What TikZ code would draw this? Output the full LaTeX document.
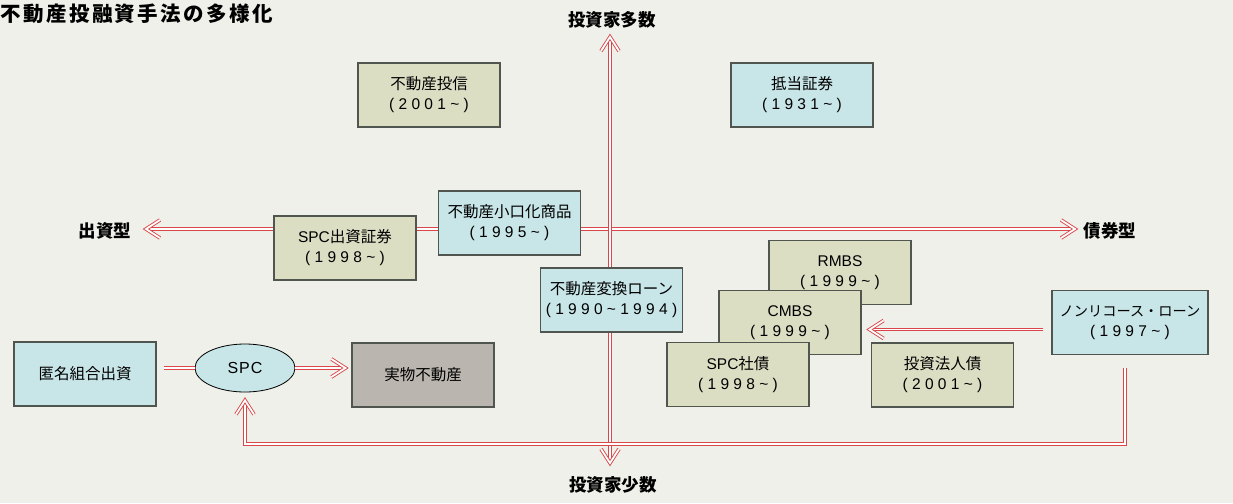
\documentclass[tikz,border=0pt]{standalone}
\usepackage{fontspec}
\setmainfont{Liberation Sans}
\newfontfamily\cjk{Noto Sans CJK JP}
\usetikzlibrary{shapes.geometric}
\definecolor{bgc}{HTML}{EEF0E9}
\definecolor{olv}{HTML}{DBDEC3}
\definecolor{lblue}{HTML}{C8E5E8}
\definecolor{taupe}{HTML}{BAB6AF}
\definecolor{ared}{HTML}{D9474A}
\definecolor{bord}{HTML}{505550}
\newcommand\chevtip[2]{\draw[dbl, shift={(#1)}, rotate=#2] (-14,-9) -- (0,0) -- (-14,9);}
\begin{document}
\begin{tikzpicture}[x=1pt,y=-1pt,
  box/.style={draw=bord, line width=1.2pt, minimum width=142pt, minimum height=64pt, inner sep=0pt, align=center, font=\fontsize{15.5}{20}\selectfont},
  obox/.style={box, fill=olv},
  bbox/.style={box, fill=lblue},
  axlbl/.style={font=\fontsize{17.5}{20}\selectfont\cjk\bfseries, inner sep=0pt},
  dbl/.style={draw=ared, line width=0.9pt, double=white, double distance=1.8pt, line join=miter},
]
\fill[bgc] (0,0) rectangle (1233,503);
\useasboundingbox (0,0) rectangle (1233,503);

% title
\node[anchor=west, inner sep=0pt, font=\fontsize{20.5}{22}\selectfont\cjk\bfseries\addfontfeature{LetterSpace=12}] (title) at (0,14) {不動産投融資手法の多様化};

% axes
\coordinate (vT) at (610,37);
\coordinate (vB) at (610,463);
\coordinate (hL) at (146,229);
\coordinate (hR) at (1075,229);
\node[axlbl] (ltop) at (612,20) {投資家多数};
\node[axlbl] (lbot) at (613,485) {投資家少数};
\node[axlbl] (lleft) at (105,231) {出資型};
\node[axlbl] (lright) at (1110,231) {債券型};
\draw[dbl, shorten <=4pt, shorten >=4pt] (hL) -- (hR);
\chevtip{hL}{180}
\chevtip{hR}{0}
\draw[dbl, shorten <=4pt, shorten >=4pt] (vT) -- (vB);
\chevtip{vT}{90}
\chevtip{vB}{-90}

% boxes
\node[obox] (toushin) at (429,95) {{\cjk 不動産投信}\\( 2 0 0 1 \textasciitilde{} )};
\node[bbox] (teitou) at (802,95) {{\cjk 抵当証券}\\( 1 9 3 1 \textasciitilde{} )};
\node[obox] (spcshussi) at (345,248) {SPC{\cjk 出資証券}\\( 1 9 9 8 \textasciitilde{} )};
\node[bbox] (koguchi) at (509.5,223) {{\cjk 不動産小口化商品}\\( 1 9 9 5 \textasciitilde{} )};
\node[bbox] (henkan) at (611.5,300) {{\cjk 不動産変換ローン}\\( 1 9 9 0 \textasciitilde{} 1 9 9 4 )};
\node[obox] (rmbs) at (840,272.5) {RMBS\\( 1 9 9 9 \textasciitilde{} )};
\node[obox] (cmbs) at (790,322.5) {CMBS\\( 1 9 9 9 \textasciitilde{} )};
\node[obox] (spcsai) at (738,374.5) {SPC{\cjk 社債}\\( 1 9 9 8 \textasciitilde{} )};
\node[obox] (houjin) at (942.5,375) {{\cjk 投資法人債}\\( 2 0 0 1 \textasciitilde{} )};
\node[bbox, minimum width=156pt] (nonr) at (1130,322.5) {{\fontsize{14.2}{20}\selectfont\cjk ノンリコース・ローン}\\( 1 9 9 7 \textasciitilde{} )};
\node[bbox] (tokumei) at (85,374) {{\cjk 匿名組合出資}};
\node[ellipse, draw=black, line width=0.8pt, fill=lblue, minimum width=100pt, minimum height=48pt, inner sep=0pt, font=\fontsize{16}{20}\selectfont\addfontfeature{LetterSpace=6}] (spc) at (245,368) {SPC};
\node[box, fill=taupe] (jitsu) at (423,375) {{\cjk 実物不動産}};

% connector end points
\path (spc.east -| jitsu.west) ++(-6,0) coordinate (t1);
\path (nonr.west) ++(-8,7) coordinate (s2);
\path (cmbs.east) ++(8,7) coordinate (t2);
\path (nonr.south) ++(-5,13) coordinate (s3);
\path (spc.south) ++(0,8) coordinate (t3);

% connectors
\draw[dbl, shorten <=7pt] (tokumei.east |- spc.west) -- (spc.west);
\draw[dbl, shorten >=4pt] (spc.east) -- (t1);
\chevtip{t1}{0}
\draw[dbl, shorten >=4pt] (s2) -- (t2);
\chevtip{t2}{180}
\draw[dbl, shorten >=4pt] (s3) -- ++(0,76) -| (t3);
\chevtip{t3}{90}
\end{tikzpicture}
\end{document}
